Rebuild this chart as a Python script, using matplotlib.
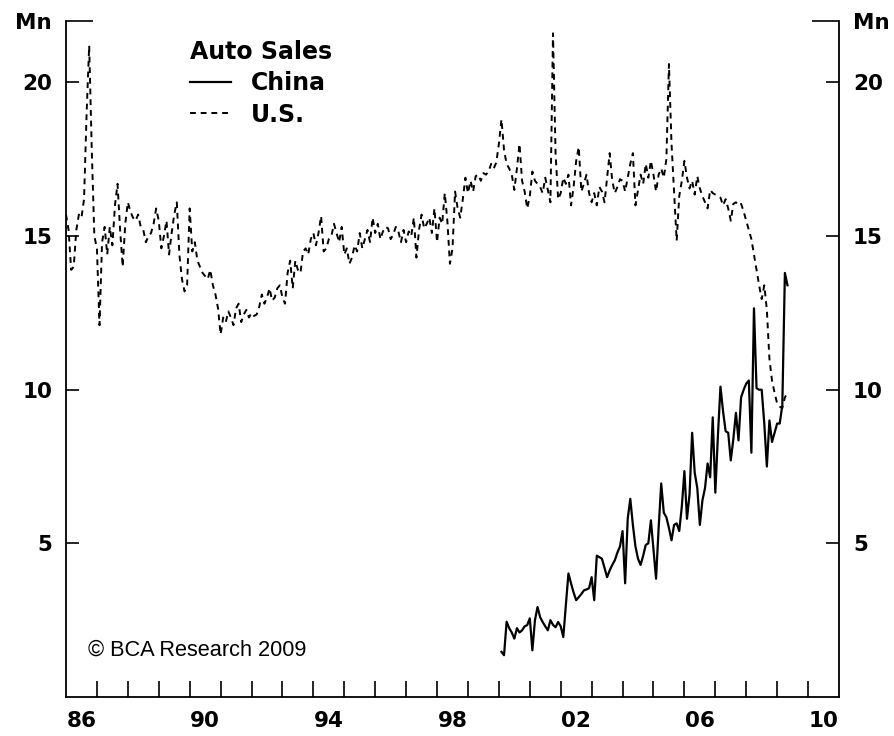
import numpy as np
import matplotlib
matplotlib.use('Agg')
import matplotlib.pyplot as plt

# ---------------------------------------------------------
# Data (monthly, millions of units)
# ---------------------------------------------------------
us_start = 1986.0
us_sales = [
    15.7, 15.2, 13.9, 14.0, 15.2, 15.7, 15.6, 16.2, 19.0, 21.2, 17.8, 15.0,   # 1986
    14.6, 12.1, 14.8, 15.3, 14.4, 15.3, 14.7, 16.0, 16.7, 15.2, 14.0, 15.4,   # 1987
    16.1, 15.8, 15.6, 15.5, 15.7, 15.3, 15.2, 14.8, 15.0, 15.1, 15.4, 15.9,   # 1988
    15.5, 14.6, 15.0, 15.5, 14.4, 15.1, 15.7, 16.1, 14.4, 13.6, 13.2, 13.4,   # 1989
    15.9, 14.5, 14.8, 14.2, 14.0, 13.8, 13.7, 13.6, 13.9, 13.4, 13.1, 12.65,  # 1990
    11.8, 12.35, 12.2, 12.55, 12.35, 12.1, 12.65, 12.8, 12.2, 12.45, 12.6, 12.35,  # 1991
    12.5, 12.4, 12.45, 12.7, 13.1, 12.8, 13.0, 13.3, 12.9, 13.0, 13.3, 13.4,  # 1992
    13.0, 12.8, 13.8, 14.2, 13.3, 14.2, 13.9, 13.8, 14.5, 14.6, 14.4, 14.9,   # 1993
    15.1, 14.7, 15.1, 15.65, 14.5, 14.6, 14.9, 15.0, 15.4, 15.1, 14.8, 15.3,  # 1994
    14.4, 14.6, 14.1, 14.3, 14.7, 14.5, 15.1, 14.6, 14.9, 15.2, 14.8, 15.6,   # 1995
    15.1, 15.4, 14.9, 15.15, 15.3, 15.25, 14.9, 15.05, 15.3, 15.15, 14.8, 15.2,  # 1996
    14.8, 15.15, 15.0, 15.6, 14.3, 15.2, 15.7, 15.25, 15.4, 15.6, 15.1, 15.9,  # 1997
    14.8, 15.6, 15.4, 16.4, 15.5, 14.1, 14.6, 16.45, 15.9, 15.6, 16.2, 16.9,  # 1998
    16.4, 16.8, 16.45, 16.95, 17.0, 16.8, 17.05, 17.0, 17.1, 17.35, 17.2, 17.4,  # 1999
    18.0, 18.8, 17.8, 17.35, 17.2, 17.0, 16.5, 17.2, 18.0, 16.8, 16.45, 15.9,  # 2000
    16.3, 17.1, 16.8, 16.7, 16.6, 16.4, 16.9, 16.5, 16.1, 21.6, 17.7, 16.2,   # 2001
    16.4, 16.9, 16.7, 17.0, 16.0, 16.6, 17.45, 17.9, 16.45, 16.7, 17.0, 16.4,  # 2002
    16.1, 16.4, 16.0, 16.6, 16.45, 16.1, 16.9, 17.7, 16.8, 16.4, 16.6, 16.85,  # 2003
    16.8, 16.45, 16.9, 17.35, 17.7, 16.0, 16.5, 17.0, 16.7, 17.35, 16.9, 17.45,  # 2004
    17.0, 16.45, 17.0, 17.2, 16.9, 17.5, 20.6, 18.0, 16.4, 14.85, 16.3, 16.8,  # 2005
    17.45, 16.9, 16.55, 16.8, 16.35, 16.95, 16.55, 16.3, 16.1, 15.9, 16.5, 16.4,  # 2006
    16.35, 16.3, 16.25, 16.0, 16.2, 15.9, 15.5, 16.05, 16.1, 16.0, 16.05, 15.8,  # 2007
    15.5, 15.2, 14.9, 14.4, 13.9, 13.4, 12.95, 13.4, 12.6, 11.0, 10.3, 9.9,   # 2008
    9.55, 9.45, 9.4, 9.75, 9.9,                                               # 2009
]

china_start = 2000 + 1 / 12
china_sales = [
    1.47, 1.36, 2.45, 2.24, 2.1, 1.9, 2.24, 2.1, 2.17, 2.3, 2.34, 2.56,
    1.52, 2.5, 2.93, 2.6, 2.44, 2.3, 2.17, 2.5, 2.35, 2.27, 2.44, 2.3,
    1.95, 3.0, 4.02, 3.7, 3.4, 3.15, 3.25, 3.35, 3.47, 3.5, 3.54, 3.9,
    3.15, 4.6, 4.55, 4.5, 4.2, 3.9, 4.12, 4.3, 4.45, 4.7, 4.9, 5.4,
    3.7, 5.8, 6.45, 5.6, 4.9, 4.5, 4.3, 4.6, 4.95, 5.0, 5.75, 4.8,
    3.85, 5.5, 6.95, 6.0, 5.85, 5.5, 5.1, 5.6, 5.65, 5.4, 6.2, 7.35,
    5.8, 6.6, 8.6, 7.3, 6.8, 5.6, 6.4, 6.8, 7.6, 7.15, 9.1, 6.65,
    8.5, 10.1, 9.3, 8.65, 8.6, 7.7, 8.4, 9.25, 8.35, 9.75, 10.0, 10.2,
    10.3, 7.95, 12.65, 10.05, 10.0, 10.0, 8.9, 7.5, 9.0, 8.3, 8.6, 8.9,
    8.9, 9.5, 13.8, 13.4,
]

year_ticks = list(range(1987, 2011))
label_years = [1986, 1990, 1994, 1998, 2002, 2006, 2010]
year_labels = ['86', '90', '94', '98', '02', '06', '10']
y_ticks = [5, 10, 15, 20, 22]
y_labels = ['5', '10', '15', '20', 'Mn']

x_us = us_start + np.arange(len(us_sales)) / 12
x_china = china_start + np.arange(len(china_sales)) / 12

# ---------------------------------------------------------
# Plot
# ---------------------------------------------------------
plt.rcParams['font.family'] = 'DejaVu Sans'
plt.rcParams['font.weight'] = 'bold'

fig = plt.figure(figsize=(8.95, 7.36), dpi=100)
ax = fig.add_axes([66 / 895, 39 / 736, 773 / 895, 676 / 736])

line_cn, = ax.plot(x_china, china_sales, color='black', lw=1.6, label='China')
line_us, = ax.plot(x_us, us_sales, color='black', lw=1.4,
                   linestyle=(0, (3, 2.5)), label='U.S.')

ax.set_xlim(1986, 2011)
ax.set_ylim(0, 22)

ax.spines['top'].set_visible(False)
for s in ['left', 'right', 'bottom']:
    ax.spines[s].set_linewidth(1.3)

# year boundaries as ticks, labels centred in the year
ax.set_xticks(year_ticks)
ax.set_xticklabels([])
ax.set_xticks([y + 0.5 for y in label_years], minor=True)
ax.set_xticklabels(year_labels, minor=True)
ax.tick_params(axis='x', which='major', direction='in', length=11.5, width=1.2)
ax.tick_params(axis='x', which='minor', length=0, pad=10, labelsize=15.5)

ax.set_yticks(y_ticks)
ax.set_yticklabels(y_labels)
ax.tick_params(axis='y', direction='in', length=9.5, width=1.2,
               left=True, right=True, labelleft=True, labelright=True,
               pad=10, labelsize=15.5)
top_tick = ax.yaxis.get_major_ticks()[-1]
top_tick.tick1line.set_markersize(19.5)
top_tick.tick2line.set_markersize(19.5)

leg = ax.legend(handles=[line_cn, line_us], title='Auto Sales',
                loc='upper left', bbox_to_anchor=(0.145, 0.99),
                frameon=False, borderpad=0, handlelength=1.75,
                handletextpad=0.85, labelspacing=0.32, alignment='left',
                prop={'size': 17, 'weight': 'bold'},
                title_fontproperties={'size': 17, 'weight': 'bold'})

ax.text(0.0285, 0.0695, '\u00a9 BCA Research 2009', transform=ax.transAxes,
        family='Liberation Sans', fontsize=15.7, fontweight='normal',
        ha='left', va='center')

plt.savefig('out.png', dpi=100)
plt.close(fig)
